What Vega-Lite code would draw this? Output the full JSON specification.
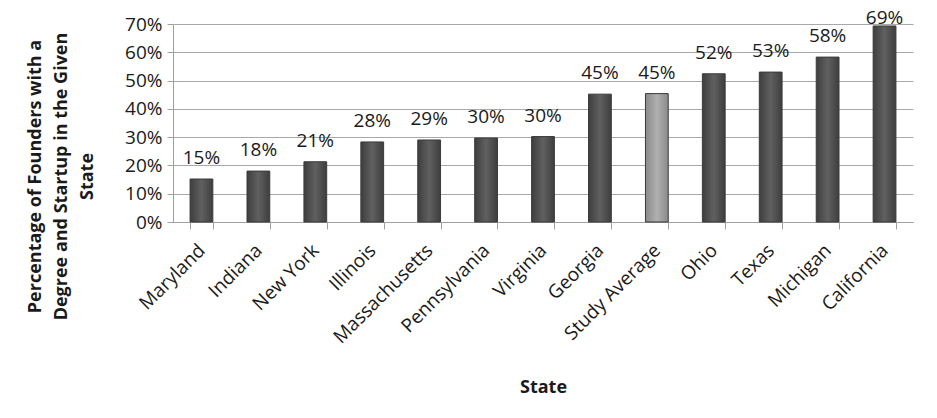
{
  "$schema": "https://vega.github.io/schema/vega-lite/v6.json",
  "autosize": {"type": "none"},
  "width": 740,
  "height": 198,
  "padding": {"left": 173, "top": 24, "right": 24, "bottom": 196},
  "background": "white",
  "config": {
    "view": {"stroke": null},
    "font": "Open Sans",
    "axis": {"labelFont": "Open Sans", "titleFont": "Open Sans", "labelColor": "#1a1a1a", "titleColor": "#1a1a1a"}
  },
  "data": {
    "values": [
      {"State": "Maryland", "Pct": 0.152},
      {"State": "Indiana", "Pct": 0.18},
      {"State": "New York", "Pct": 0.213},
      {"State": "Illinois", "Pct": 0.283},
      {"State": "Massachusetts", "Pct": 0.29},
      {"State": "Pennsylvania", "Pct": 0.297},
      {"State": "Virginia", "Pct": 0.302},
      {"State": "Georgia", "Pct": 0.452},
      {"State": "Study Average", "Pct": 0.454},
      {"State": "Ohio", "Pct": 0.524},
      {"State": "Texas", "Pct": 0.53},
      {"State": "Michigan", "Pct": 0.583},
      {"State": "California", "Pct": 0.693}
    ]
  },
  "encoding": {
    "x": {
      "field": "State",
      "type": "nominal",
      "sort": null,
      "scale": {"paddingInner": 0.6, "paddingOuter": 0.3},
      "axis": {
        "title": "State",
        "titleFontSize": 18,
        "titleFontWeight": "bold",
        "titleY": 156,
        "labelAngle": -45,
        "labelAlign": "right",
        "labelBaseline": "middle",
        "labelFontSize": 19,
        "labelPadding": 18,
        "tickBand": "extent",
        "tickSize": 7,
        "tickColor": "#a0a0a0",
        "domainColor": "#a0a0a0",
        "grid": false
      }
    },
    "y": {
      "field": "Pct",
      "type": "quantitative",
      "scale": {"domain": [0, 0.7], "nice": false},
      "axis": {
        "title": ["Percentage of Founders with a", "Degree and Startup in the Given", "State"],
        "titleFontSize": 18,
        "titleFontWeight": "bold",
        "titleAngle": -90,
        "titleAlign": "center",
        "titleBaseline": "alphabetic",
        "titleLineHeight": 26,
        "titleX": -133,
        "titleY": 152,
        "format": ".0%",
        "values": [0, 0.1, 0.2, 0.3, 0.4, 0.5, 0.6, 0.7],
        "labelFontSize": 19,
        "labelPadding": 5,
        "tickSize": 6,
        "tickColor": "#a0a0a0",
        "domainColor": "#a0a0a0",
        "gridColor": "#a8a8a8",
        "gridOpacity": 1
      }
    }
  },
  "layer": [
    {
      "mark": {"type": "bar", "stroke": "#3a3a3a", "strokeWidth": 1},
      "encoding": {
        "color": {
          "condition": {
            "test": "datum.State === 'Study Average'",
            "value": {"gradient": "linear", "x1": 0, "x2": 1, "y1": 0, "y2": 0, "stops": [{"offset": 0, "color": "#8a8a8a"}, {"offset": 0.5, "color": "#b0b0b0"}, {"offset": 1, "color": "#8a8a8a"}]}
          },
          "value": {"gradient": "linear", "x1": 0, "x2": 1, "y1": 0, "y2": 0, "stops": [{"offset": 0, "color": "#3e3e3e"}, {"offset": 0.5, "color": "#606060"}, {"offset": 1, "color": "#3e3e3e"}]}
        }
      }
    },
    {
      "transform": [{"filter": "datum.State !== 'California'"}],
      "mark": {"type": "text", "baseline": "alphabetic", "dy": -15, "fontSize": 19, "color": "#1a1a1a"},
      "encoding": {"text": {"field": "Pct", "type": "quantitative", "format": ".0%"}}
    },
    {
      "transform": [{"filter": "datum.State === 'California'"}],
      "mark": {"type": "text", "baseline": "alphabetic", "dy": -2, "fontSize": 19, "color": "#1a1a1a"},
      "encoding": {"text": {"field": "Pct", "type": "quantitative", "format": ".0%"}}
    }
  ]
}
